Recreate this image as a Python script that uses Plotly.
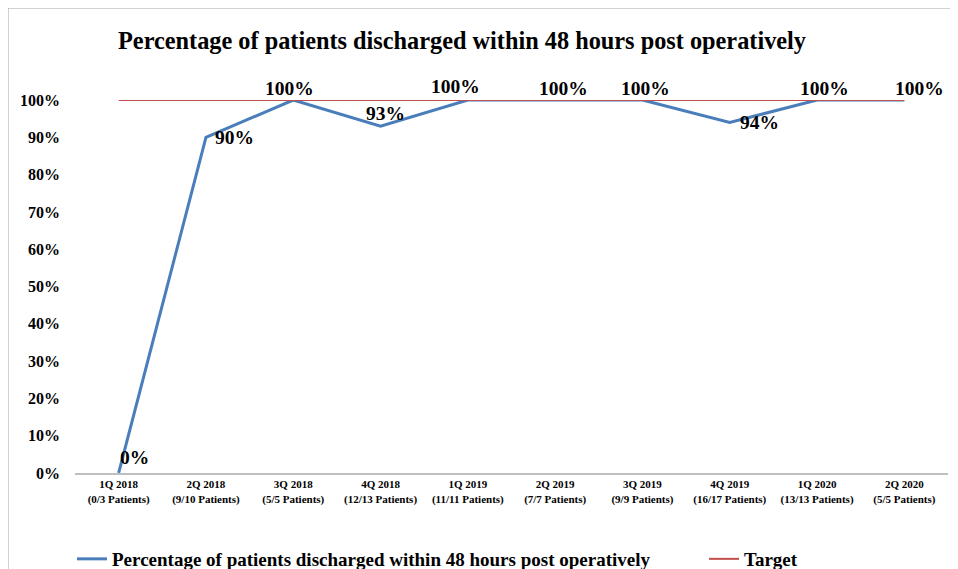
import plotly.graph_objects as go

categories = ["1Q 2018<br>(0/3 Patients)", "2Q 2018<br>(9/10 Patients)", "3Q 2018<br>(5/5 Patients)",
              "4Q 2018<br>(12/13 Patients)", "1Q 2019<br>(11/11 Patients)", "2Q 2019<br>(7/7 Patients)",
              "3Q 2019<br>(9/9 Patients)", "4Q 2019<br>(16/17 Patients)", "1Q 2020<br>(13/13 Patients)",
              "2Q 2020<br>(5/5 Patients)"]
percentages = [0.0, 0.90, 1.0, 0.93, 1.0, 1.0, 1.0, 0.94, 1.0, 1.0]
target = [1.0] * 10
y_ticks = [0, 0.1, 0.2, 0.3, 0.4, 0.5, 0.6, 0.7, 0.8, 0.9, 1.0]
y_tick_labels = ["0%", "10%", "20%", "30%", "40%", "50%", "60%", "70%", "80%", "90%", "100%"]

# label offsets (style): pixel shifts of each data label from its point
label_dx = [16, 29, -4, 5, -12, 8, 3, 30, 7, 15]
label_dy = [16, 0, 12, 13, 14, 12, 12, 0, 12, 12]

FONT = "Liberation Serif"
W, H = 958, 569
PL, PT, PB = 67, 92, 465
PW, PH = 873, PB - PT

fig = go.Figure()
fig.add_trace(go.Scatter(
    x=categories, y=percentages, mode="lines",
    name="<b>Percentage of patients discharged within 48 hours post operatively</b>",
    line=dict(color="#4a7ebb", width=3),
    cliponaxis=False, legend="legend",
))
fig.add_trace(go.Scatter(
    x=categories, y=target, mode="lines", name="<b>Target</b>",
    line=dict(color="#c0504d", width=2), cliponaxis=False, legend="legend2",
))

for cat, v, dx, dy in zip(categories, percentages, label_dx, label_dy):
    fig.add_annotation(x=cat, y=v, xref="x", yref="y", text=f"<b>{round(v*100)}%</b>",
                       showarrow=False, xanchor="center", yanchor="middle",
                       xshift=dx, yshift=dy,
                       font=dict(family=FONT, size=19.5, color="black"))

legend_common = dict(orientation="h", yref="container", y=1 - 551 / H, yanchor="middle",
                     xanchor="left", xref="container",
                     font=dict(family=FONT, size=19, color="black"),
                     bgcolor="rgba(0,0,0,0)", itemwidth=30)

fig.update_layout(
    width=W, height=H,
    margin=dict(l=PL, r=W - PL - PW, t=PT, b=H - PB, autoexpand=False),
    paper_bgcolor="white", plot_bgcolor="white",
    font=dict(family=FONT, color="black"),
    title=dict(text="<b>Percentage of patients discharged within 48 hours post operatively</b>",
               x=(454 - PL) / PW, xref="paper", xanchor="center",
               yref="container", y=1 - 32 / H, yanchor="middle",
               font=dict(family=FONT, size=24.3, color="black")),
    xaxis=dict(type="category", range=[-0.5, 9.5], showgrid=False, zeroline=False,
               showline=True, linecolor="#bfbfbf", linewidth=2, ticks="", automargin=False,
               tickfont=dict(family=FONT, size=11, color="black"),
               tickprefix="<b>", ticksuffix="</b>"),
    yaxis=dict(range=[0, 1.0], showgrid=False, zeroline=False, showline=False,
               tickvals=y_ticks, ticktext=[f"<b>{t}</b>" for t in y_tick_labels],
               ticks="", automargin=False, ticklabelstandoff=14,
               tickfont=dict(family=FONT, size=16, color="black")),
    showlegend=True,
    legend=dict(legend_common, x=64 / W),
    legend2=dict(legend_common, x=696 / W),
)

fig.add_shape(type="rect", xref="paper", yref="paper",
              x0=(0 - PL) / PW, x1=(949 - PL) / PW,
              y0=-0.6, y1=(PB - 0) / PH,
              line=dict(color="#a6a6a6", width=1), fillcolor="rgba(0,0,0,0)", layer="below")

fig.write_html("out.html")
